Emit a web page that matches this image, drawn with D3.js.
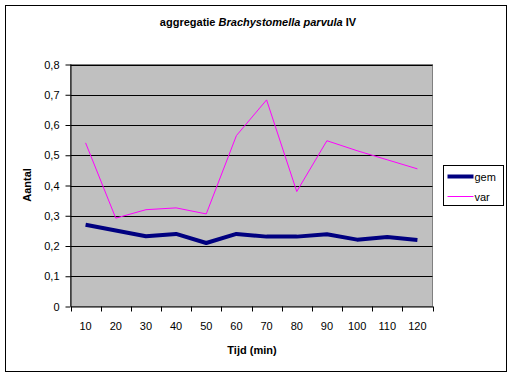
<!DOCTYPE html>
<html>
<head>
<meta charset="utf-8">
<script src="https://cdn.jsdelivr.net/npm/d3@7"></script>
<style>
  body { margin: 0; background: #fff; }
  text { font-family: "Liberation Sans", Arial, sans-serif; }
</style>
</head>
<body>
<svg id="chart" width="514" height="377"></svg>
<script>
// categorieën (tijd in minuten)
const tijd = [10, 20, 30, 40, 50, 60, 70, 80, 90, 100, 110, 120];
// gemiddelde en variantie
const gem = [0.27, 0.251, 0.232, 0.24, 0.21, 0.24, 0.231, 0.231, 0.239, 0.221, 0.23, 0.22];
const variantie = [0.541, 0.292, 0.32, 0.326, 0.306, 0.565, 0.683, 0.38, 0.548, 0.515, 0.485, 0.455];
const yTicks = [0, 0.1, 0.2, 0.3, 0.4, 0.5, 0.6, 0.7, 0.8];
const series = [
    { naam: "gem", values: gem, kleur: "#000080", breedte: 4 },
    { naam: "var", values: variantie, kleur: "#ff00ff", breedte: 1 }
];

const svg = d3.select("#chart");
const plot = { left: 70.5, right: 432.5, top: 64.5, bottom: 306.5 };

// rand om de hele grafiek
svg.append("rect")
    .attr("x", 5.5).attr("y", 5.5)
    .attr("width", 501).attr("height", 366)
    .attr("fill", "#fff").attr("stroke", "#000");

const x = d3.scaleBand().domain(tijd).range([plot.left, plot.right]);
const y = d3.scaleLinear().domain([0, 0.8]).range([plot.bottom, plot.top]);

// grijze achtergrond
svg.append("rect")
    .attr("x", plot.left).attr("y", plot.top)
    .attr("width", plot.right - plot.left).attr("height", plot.bottom - plot.top)
    .attr("fill", "#c0c0c0").attr("stroke", "#808080");

// rasterlijnen
svg.append("g")
    .selectAll("line")
    .data(yTicks.filter(d => d > 0))
    .join("line")
    .attr("x1", plot.left).attr("x2", plot.right)
    .attr("y1", d => Math.round(y(d)) + 0.5).attr("y2", d => Math.round(y(d)) + 0.5)
    .attr("stroke", "#000");

// y-as
const yAxis = svg.append("g")
    .attr("transform", `translate(${plot.left},0)`)
    .call(d3.axisLeft(y).tickValues(yTicks).tickSize(5).tickPadding(6)
        .tickFormat(d => d === 0 ? "0" : d3.format(".1f")(d).replace(".", ",")));
yAxis.select(".domain").attr("d", `M0.5,${plot.top}V${plot.bottom}`).attr("stroke", "#000");
yAxis.selectAll(".tick line").attr("stroke", "#000");
yAxis.selectAll("text").attr("font-size", 11).attr("fill", "#000")
    .attr("font-family", "Liberation Sans, Arial, sans-serif");

// x-as
const xAxis = svg.append("g")
    .attr("transform", `translate(0,${plot.bottom})`)
    .call(d3.axisBottom(x).tickSize(0).tickPadding(16));
xAxis.select(".domain").attr("stroke", "#000");
xAxis.selectAll("text").attr("font-size", 11).attr("fill", "#000")
    .attr("font-family", "Liberation Sans, Arial, sans-serif");
// maatstreepjes tussen de categorieën
xAxis.selectAll(".sep")
    .data(d3.range(tijd.length + 1))
    .join("line")
    .attr("x1", i => Math.round(plot.left + i * x.step()) + 0.5)
    .attr("x2", i => Math.round(plot.left + i * x.step()) + 0.5)
    .attr("y1", 0).attr("y2", 5)
    .attr("stroke", "#000");

// lijnen
const line = d3.line()
    .x((d, i) => x(tijd[i]) + x.bandwidth() / 2)
    .y(d => y(d));

svg.append("g")
    .selectAll("path")
    .data(series)
    .join("path")
    .attr("d", d => line(d.values))
    .attr("fill", "none")
    .attr("stroke", d => d.kleur)
    .attr("stroke-width", d => d.breedte)
    .attr("stroke-linejoin", "round");

// titels
svg.append("text")
    .attr("x", 258).attr("y", 26)
    .attr("text-anchor", "middle")
    .attr("font-size", 11).attr("font-weight", "bold")
    .call(t => {
        t.append("tspan").text("aggregatie ");
        t.append("tspan").attr("font-style", "italic").text("Brachystomella parvula");
        t.append("tspan").text(" IV");
    });

svg.append("text")
    .attr("x", 252).attr("y", 354)
    .attr("text-anchor", "middle")
    .attr("font-size", 11).attr("font-weight", "bold")
    .text("Tijd (min)");

svg.append("text")
    .attr("transform", "translate(31,185) rotate(-90)")
    .attr("text-anchor", "middle")
    .attr("font-size", 11).attr("font-weight", "bold")
    .text("Aantal");

// legenda
const legend = svg.append("g").attr("transform", "translate(443.5,165.5)");
legend.append("rect")
    .attr("width", 60).attr("height", 40)
    .attr("fill", "#fff").attr("stroke", "#000");
const item = legend.selectAll("g")
    .data(series)
    .join("g")
    .attr("transform", (d, i) => `translate(0,${11 + i * 20})`);
item.append("line")
    .attr("x1", 4).attr("x2", 30)
    .attr("stroke", d => d.kleur)
    .attr("stroke-width", d => d.breedte);
item.append("text")
    .attr("x", 31).attr("y", 4)
    .attr("font-size", 11)
    .text(d => d.naam);
</script>
</body>
</html>
